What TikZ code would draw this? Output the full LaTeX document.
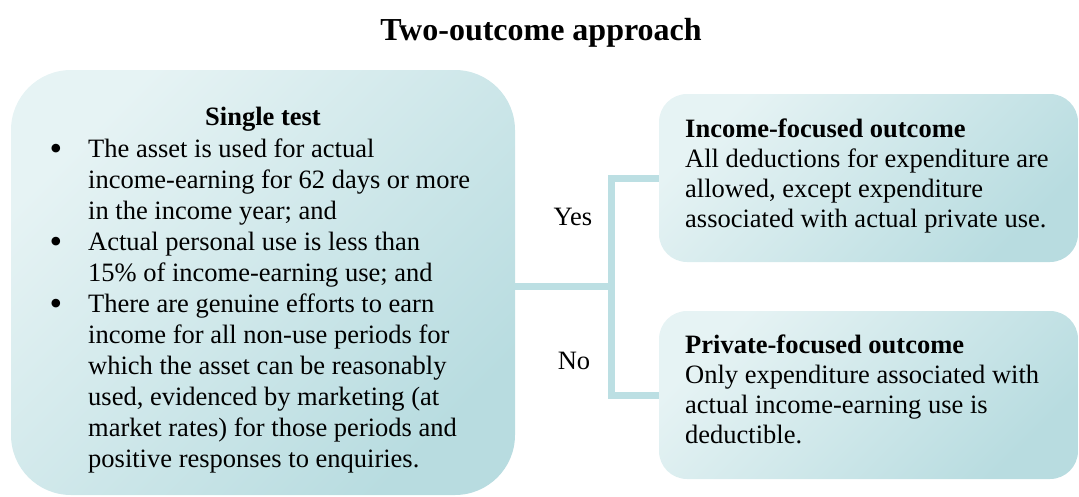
\documentclass[tikz,border=0pt]{standalone}
\usepackage{fontspec}
\setmainfont{Liberation Serif}
\definecolor{panellight}{HTML}{E6F3F4}
\definecolor{paneldark}{HTML}{B8DCE0}
\definecolor{linkcol}{HTML}{BCDFE3}
\begin{document}
\begin{tikzpicture}[x=1pt,y=-1pt,
  panel/.style={draw=none, top color=panellight, bottom color=paneldark,
    shading angle=45, inner sep=0pt},
  body/.style={inner sep=0pt, font=\fontsize{26.5pt}{31pt}\selectfont},
  head/.style={body, font=\fontsize{26.5pt}{31pt}\selectfont\bfseries},
  dot/.style={inner sep=0pt, font=\fontsize{36pt}{36pt}\selectfont},
  link/.style={draw=linkcol, line width=7pt}]
\useasboundingbox (0,0) rectangle (1079,496);

% title
\node[inner sep=0pt, font=\fontsize{32pt}{36pt}\selectfont\bfseries, anchor=base]
  (title) at (541,40) {Two-outcome approach};

% panels
\node[panel, rounded corners=60pt, minimum width=504pt, minimum height=425pt]
  (single) at (263,282.5) {};
\node[panel, rounded corners=28pt, minimum width=419pt, minimum height=168pt]
  (income) at (868.5,178) {};
\node[panel, rounded corners=28pt, minimum width=419pt, minimum height=168pt]
  (private) at (868.5,395) {};

% branching connector
\coordinate (fork) at (611,286.5);
\draw[link] (single.east |- fork) -- (fork);
\draw[link] (income.west) -| (fork) |- (private.west);
\node[body, anchor=base] (yes) at (573,225) {Yes};
\node[body, anchor=base] (no) at (574,369) {No};

% single test text
\node[head, anchor=base] (stest) at (263,125) {Single test};
\foreach \t [count=\k from 0] in {
  {The asset is used for actual},
  {income-earning for 62 days or more},
  {in the income year; and},
  {Actual personal use is less than},
  {15\% of income-earning use; and},
  {There are genuine efforts to earn},
  {income for all non-use periods for},
  {which the asset can be reasonably},
  {used, evidenced by marketing (at},
  {market rates) for those periods and},
  {positive responses to enquiries.}}
  \node[body, anchor=base west] (sline\k) at (88,157+31*\k) {\t};
\foreach \k in {0,3,5}
  \node[dot, anchor=base] (bullet\k) at (56,160+31*\k) {•};

% income-focused outcome
\node[head, anchor=base west] (ihead) at (685,137) {Income-focused outcome};
\foreach \t [count=\k from 1] in {
  {All deductions for expenditure are},
  {allowed, except expenditure},
  {associated with actual private use.}}
  \node[body, anchor=base west] (iline\k) at (685,137+30*\k) {\t};

% private-focused outcome
\node[head, anchor=base west] (phead) at (685,353) {Private-focused outcome};
\foreach \t [count=\k from 1] in {
  {Only expenditure associated with},
  {actual income-earning use is},
  {deductible.}}
  \node[body, anchor=base west] (pline\k) at (685,353+30*\k) {\t};
\end{tikzpicture}
\end{document}
